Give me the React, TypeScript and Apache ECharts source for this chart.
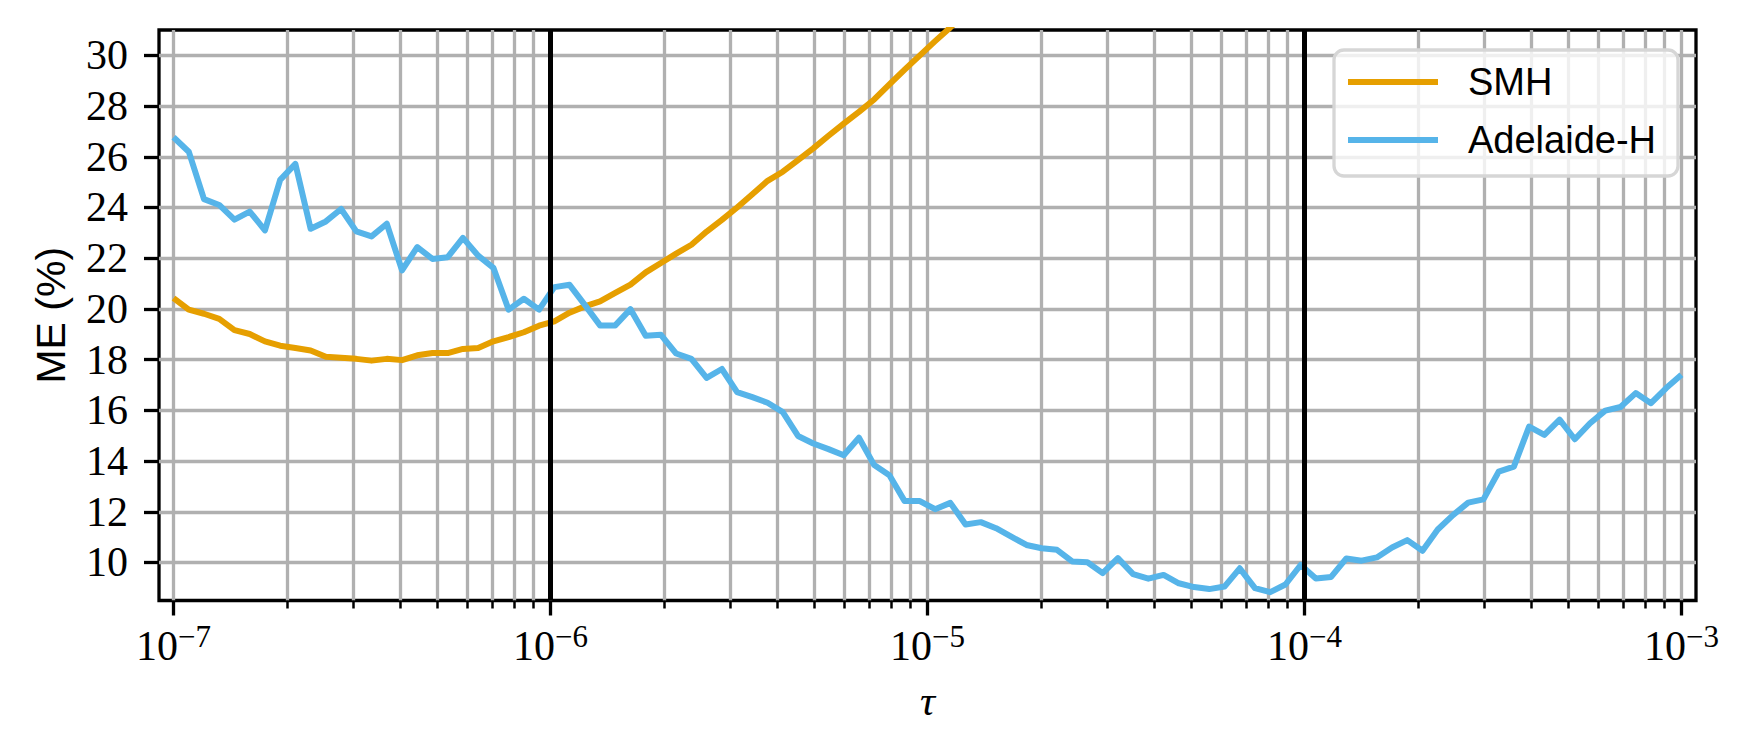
import React, { useEffect, useRef } from "react";
import * as echarts from "echarts";

// tau sampling grid of the experiment: 100 log-spaced samples from 1e-7 to 1e-3
const tauCount = 100;
const tau: number[] = Array.from({ length: tauCount }, (_, i) =>
  Math.pow(10, -7 + (4 * i) / (tauCount - 1))
);

// ME (%)
const smh: number[] = [
  20.43, 19.97, 19.81, 19.61, 19.16, 19.01, 18.72, 18.55, 18.46, 18.36,
  18.11, 18.07, 18.03, 17.96, 18.03, 17.98, 18.17, 18.26, 18.26, 18.42,
  18.46, 18.72, 18.89, 19.08, 19.34, 19.51, 19.85, 20.1, 20.3, 20.63,
  20.96, 21.44, 21.81, 22.18, 22.53, 23.05, 23.51, 24.0, 24.52, 25.05,
  25.41, 25.87, 26.33, 26.83, 27.31, 27.77, 28.26, 28.86, 29.44, 30.0,
  30.56, 31.1, 31.7,
];

const adelaide: number[] = [
  26.77, 26.2, 24.33, 24.1, 23.52, 23.84, 23.1, 25.09, 25.72, 23.16,
  23.45, 23.94, 23.06, 22.86, 23.36, 21.52, 22.44, 21.97, 22.04, 22.8,
  22.1, 21.62, 19.97, 20.4, 19.97, 20.86, 20.95, 20.16, 19.35, 19.35,
  19.99, 18.94, 18.98, 18.24, 18.03, 17.28, 17.63, 16.72, 16.52, 16.3,
  15.93, 14.99, 14.69, 14.47, 14.23, 14.92, 13.84, 13.44, 12.42, 12.42,
  12.1, 12.35, 11.5, 11.59, 11.35, 11.02, 10.69, 10.56, 10.5, 10.04,
  10.01, 9.58, 10.17, 9.54, 9.36, 9.51, 9.18, 9.03, 8.95, 9.05,
  9.77, 8.99, 8.83, 9.13, 9.9, 9.37, 9.43, 10.16, 10.07, 10.2,
  10.59, 10.88, 10.46, 11.3, 11.87, 12.36, 12.49, 13.58, 13.78, 15.36,
  15.03, 15.63, 14.86, 15.49, 15.99, 16.13, 16.68, 16.28, 16.88, 17.4,
];

const seriesNames = ["SMH", "Adelaide-H"];
const seriesColors = ["#E69F00", "#56B4E9"];

const majorTicks = [1e-7, 1e-6, 1e-5, 1e-4, 1e-3];
const minorTicks = [
  2e-7, 3e-7, 4e-7, 5e-7, 6e-7, 7e-7, 8e-7, 9e-7,
  2e-6, 3e-6, 4e-6, 5e-6, 6e-6, 7e-6, 8e-6, 9e-6,
  2e-5, 3e-5, 4e-5, 5e-5, 6e-5, 7e-5, 8e-5, 9e-5,
  2e-4, 3e-4, 4e-4, 5e-4, 6e-4, 7e-4, 8e-4, 9e-4,
];
const yTicks = [10, 12, 14, 16, 18, 20, 22, 24, 26, 28, 30];
const vLines = [1e-6, 1e-4];
const xRange = [9.15e-8, 1.093e-3];
const yRange = [8.5, 31];

const lg = (v: number) => Math.log10(v);

export default function App() {
  const ref = useRef<HTMLDivElement>(null);

  useEffect(() => {
    if (!ref.current) return;
    const chart = echarts.init(ref.current, undefined, { renderer: "svg" });

    const gridStyle = { color: "#b0b0b0", width: 3.3, type: "solid" as const };
    const serif = "'Liberation Serif', 'DejaVu Serif', serif";
    const sans = "'Liberation Sans', 'DejaVu Sans', sans-serif";

    const expLabel = (v: number) => {
      const e = Math.round(v);
      const s = e < 0 ? "\u2212" + -e : String(e);
      return `{b|10}{s|${s}}`;
    };

    const option: any = {
      animation: false,
      backgroundColor: "#ffffff",
      grid: {
        left: 159,
        top: 30,
        right: 56,
        bottom: 149.5,
        show: true,
        borderColor: "#000",
        borderWidth: 3.3,
        backgroundColor: "transparent",
        containLabel: false,
      },
      legend: {
        data: seriesNames,
        orient: "vertical",
        left: 1334,
        top: 50,
        padding: [12, 22, 16, 14],
        itemWidth: 90,
        itemHeight: 6,
        itemGap: 18,
        icon: "rect",
        selectedMode: false,
        backgroundColor: "rgba(255,255,255,0.8)",
        borderColor: "#d6d6d6",
        borderWidth: 3.3,
        borderRadius: 10,
        textStyle: {
          fontFamily: sans,
          fontSize: 38,
          color: "#000",
          lineHeight: 40,
          padding: [0, 0, 0, 25],
        },
      },
      xAxis: [
        {
          type: "value",
          min: lg(xRange[0]),
          max: lg(xRange[1]),
          position: "bottom",
          name: "\u03C4",
          nameLocation: "middle",
          nameGap: 79,
          nameTextStyle: {
            fontFamily: serif,
            fontStyle: "italic",
            fontSize: 42,
            color: "#000",
          },
          axisLine: { show: false },
          axisTick: {
            show: true,
            customValues: majorTicks.map(lg),
            length: 15,
            lineStyle: { color: "#000", width: 3.3 },
          },
          axisLabel: {
            show: true,
            customValues: majorTicks.map(lg),
            margin: 20,
            formatter: expLabel,
            color: "#000",
            rich: {
              b: {
                fontFamily: serif,
                fontSize: 42,
                lineHeight: 46,
                verticalAlign: "bottom",
                color: "#000",
              },
              s: {
                fontFamily: serif,
                fontSize: 31,
                lineHeight: 24,
                verticalAlign: "top",
                color: "#000",
              },
            },
          },
          splitLine: { show: true, lineStyle: gridStyle },
        },
        {
          type: "value",
          min: lg(xRange[0]),
          max: lg(xRange[1]),
          position: "bottom",
          axisLine: { show: false },
          axisLabel: { show: false },
          axisTick: {
            show: true,
            customValues: minorTicks.map(lg),
            length: 8,
            lineStyle: { color: "#000", width: 2.5 },
          },
          splitLine: { show: true, lineStyle: gridStyle },
        },
      ],
      yAxis: [
        {
          type: "value",
          min: yRange[0],
          max: yRange[1],
          position: "left",
          name: "ME (%)",
          nameLocation: "middle",
          nameGap: 88,
          nameTextStyle: { fontFamily: sans, fontSize: 41, color: "#000" },
          axisLine: { show: false },
          axisTick: {
            show: true,
            customValues: yTicks,
            length: 15,
            lineStyle: { color: "#000", width: 3.3 },
          },
          axisLabel: {
            show: true,
            customValues: yTicks,
            margin: 31,
            fontFamily: serif,
            fontSize: 42,
            color: "#000",
          },
          splitLine: { show: true, lineStyle: gridStyle },
        },
      ],
      series: [
        {
          name: seriesNames[0],
          type: "line",
          xAxisIndex: 0,
          yAxisIndex: 0,
          data: smh.map((v, i) => [lg(tau[i]), v]),
          symbol: "none",
          showSymbol: false,
          clip: true,
          z: 3,
          color: seriesColors[0],
          lineStyle: { color: seriesColors[0], width: 6, join: "round" },
          itemStyle: { color: seriesColors[0] },
          emphasis: { disabled: true },
        },
        {
          name: seriesNames[1],
          type: "line",
          xAxisIndex: 0,
          yAxisIndex: 0,
          data: adelaide.map((v, i) => [lg(tau[i]), v]),
          symbol: "none",
          showSymbol: false,
          clip: true,
          z: 3,
          color: seriesColors[1],
          lineStyle: { color: seriesColors[1], width: 6, join: "round" },
          itemStyle: { color: seriesColors[1] },
          emphasis: { disabled: true },
          markLine: {
            silent: true,
            symbol: "none",
            animation: false,
            z: 5,
            label: { show: false },
            lineStyle: { color: "#000", width: 5, type: "solid" },
            emphasis: { disabled: true },
            data: vLines.map((v) => ({ xAxis: lg(v) })),
          },
        },
      ],
    };

    chart.setOption(option);
    return () => chart.dispose();
  }, []);

  return (
    <div
      ref={ref}
      style={{ position: "fixed", left: 0, top: 0, width: 1752, height: 750 }}
    />
  );
}
